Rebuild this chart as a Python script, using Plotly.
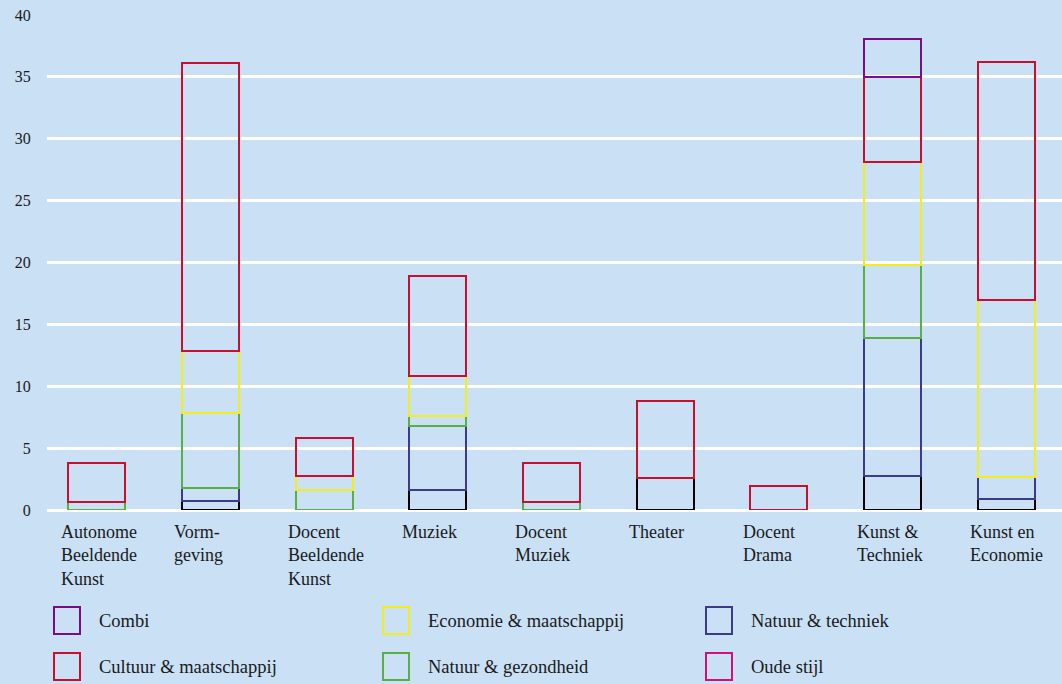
import plotly.graph_objects as go

# ---- data ----
categories = ["Autonome<br>Beeldende<br>Kunst", "Vorm-<br>geving", "Docent<br>Beeldende<br>Kunst",
              "Muziek", "Docent<br>Muziek", "Theater", "Docent<br>Drama",
              "Kunst &<br>Techniek", "Kunst en<br>Economie"]

overig = [None, 0.7, None, 1.65, None, 2.6, None, 2.75, 0.9]          # black base segment (no legend entry)
natuur_techniek = [None, 1.1, None, 5.1, None, None, None, 11.15, 1.8]
natuur_gezondheid = [0.65, 6.05, 1.65, 0.85, 0.65, None, None, 5.9, None]
economie_maatschappij = [None, 5.0, 1.1, 3.2, None, None, None, 8.3, 14.3]
cultuur_maatschappij = [3.15, 23.25, 3.1, 8.1, 3.15, 6.2, 1.9, 6.9, 19.2]
combi = [None, None, None, None, None, None, None, 3.05, None]
oude_stijl = [None] * 9

y_ticks = [0, 5, 10, 15, 20, 25, 30, 35, 40]

# legend order (row-wise, 3 columns)
legend_names = ["Combi", "Economie & maatschappij", "Natuur & techniek",
                "Cultuur & maatschappij", "Natuur & gezondheid", "Oude stijl"]

# ---- styling ----
BG = "#C9E0F5"
FONT = "Liberation Serif"
colors = {
    "Overig": "#000000",
    "Natuur & techniek": "#3D3A87",
    "Natuur & gezondheid": "#5BAE44",
    "Economie & maatschappij": "#F2EE1A",
    "Cultuur & maatschappij": "#C8102E",
    "Combi": "#7B0C82",
    "Oude stijl": "#D1107A",
}

series = [
    ("Overig", overig),
    ("Natuur & techniek", natuur_techniek),
    ("Natuur & gezondheid", natuur_gezondheid),
    ("Economie & maatschappij", economie_maatschappij),
    ("Cultuur & maatschappij", cultuur_maatschappij),
    ("Combi", combi),
    ("Oude stijl", oude_stijl),
]

x_idx = list(range(len(categories)))

fig = go.Figure()
for name, vals in series:
    fig.add_trace(go.Bar(
        x=x_idx, y=vals, name=name, width=0.5,
        marker=dict(color="rgba(0,0,0,0)", line=dict(color=colors[name], width=2)),
        showlegend=False, hoverinfo="skip",
    ))

# geometry (pixels) for conversion to paper coords
W, H = 1062, 684
ML, MR, MT, MB = 47, 0, 15, 174
PW, PH = W - ML - MR, H - MT - MB


def px_x(p):
    return (p - ML) / PW


def px_y(p):
    return (H - MB - p) / PH


annotations = []
for i, lab in enumerate(categories):
    annotations.append(dict(
        x=i, xref="x", xshift=-38, xanchor="left",
        y=px_y(520), yref="paper", yanchor="top",
        text=lab, showarrow=False, align="left",
        font=dict(family=FONT, size=18, color="#1a1a1a"),
    ))

shapes = []
col_x = [54, 383, 706]
row_y = [607, 653]
for k, name in enumerate(legend_names):
    r, c = divmod(k, 3)
    x0, y0 = col_x[c], row_y[r]
    shapes.append(dict(
        type="rect", xref="paper", yref="paper",
        x0=px_x(x0), x1=px_x(x0 + 26), y0=px_y(y0 + 27), y1=px_y(y0),
        line=dict(color=colors[name], width=2), fillcolor="rgba(0,0,0,0)",
    ))
    annotations.append(dict(
        x=px_x(x0 + 43), xref="paper", xanchor="left",
        y=px_y(y0 + 13.5), yref="paper", yanchor="middle",
        text=name, showarrow=False,
        font=dict(family=FONT, size=18.5, color="#1a1a1a"),
    ))

fig.update_layout(
    barmode="stack",
    width=W, height=H,
    margin=dict(l=ML, r=MR, t=MT, b=MB, pad=0),
    paper_bgcolor=BG, plot_bgcolor=BG,
    font=dict(family=FONT, size=15, color="#1a1a1a"),
    xaxis=dict(range=[-0.437, 8.49], showticklabels=False, showgrid=False,
               zeroline=False, showline=False, ticks=""),
    yaxis=dict(range=[0, 40], tickvals=y_ticks, showgrid=True, gridcolor="white",
               gridwidth=2.5, zeroline=True, zerolinecolor="white", zerolinewidth=2.5,
               showline=False, ticks="outside", ticklen=12, tickcolor="rgba(0,0,0,0)",
               tickfont=dict(family=FONT, size=16, color="#1a1a1a")),
    annotations=annotations,
    shapes=shapes,
    showlegend=False,
)

fig.write_html(
    "out.html",
    config={"displayModeBar": False},
    post_script="document.body.style.margin='0';document.body.style.background='%s';" % BG,
)
